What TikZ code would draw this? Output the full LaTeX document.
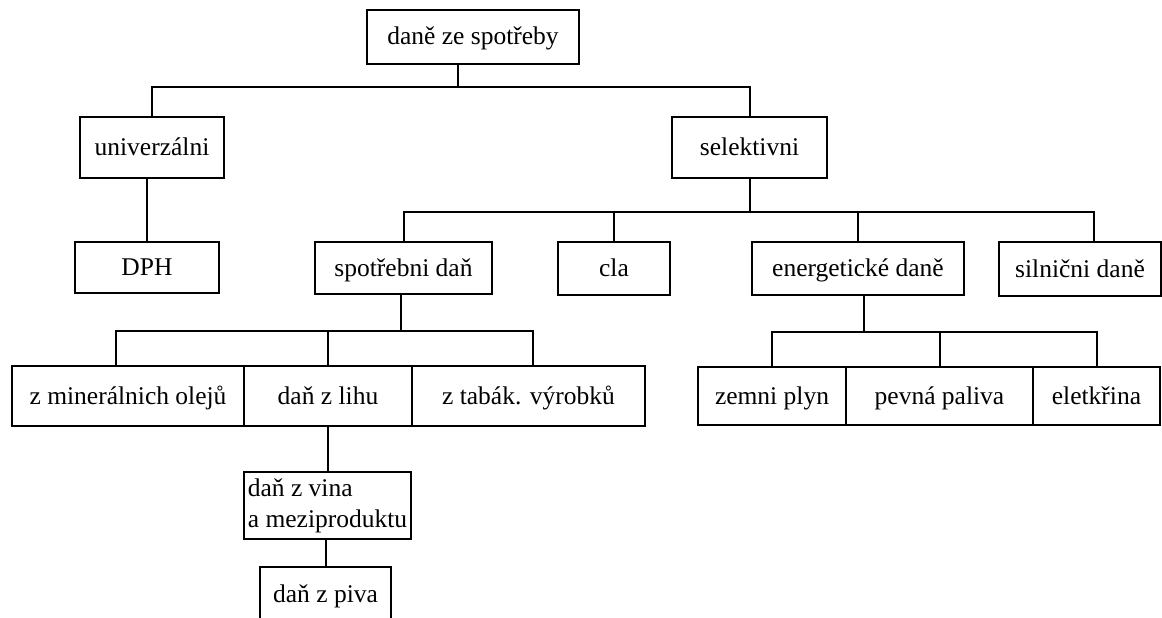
\documentclass[tikz,border=0pt]{standalone}
\usepackage{fontspec}
\setmainfont{Liberation Serif}
\tikzset{box/.style={draw, line width=2pt, inner sep=0pt, align=center, text height=20pt, text depth=4pt},
  boxtwo/.style={draw, line width=2pt, inner sep=0pt, align=left}}
\begin{document}
\begin{tikzpicture}[x=1pt, y=-1pt, line width=2pt, font=\fontsize{25.5}{31}\selectfont]
\useasboundingbox (0,0) rectangle (1162,618);
\node[box, minimum width=212pt, minimum height=54pt] (top) at (473,37){daně ze spotřeby};
\node[box, minimum width=144pt, minimum height=61pt] (univ) at (152,147.5){univerzálni};
\node[box, minimum width=155pt, minimum height=61pt] (sel) at (749.5,147.5){selektivni};
\node[box, minimum width=144pt, minimum height=51pt] (dph) at (147,267.5){DPH};
\node[box, minimum width=177pt, minimum height=52pt] (spot) at (403.5,268){spotřebni daň};
\node[box, minimum width=112pt, minimum height=53pt] (cla) at (614,268.5){cla};
\node[box, minimum width=212pt, minimum height=53pt] (energ) at (858,268.5){energetické daně};
\node[box, minimum width=162pt, minimum height=54pt] (siln) at (1080,269){silnični daně};
\node[box, minimum width=232pt, minimum height=60pt] (minr) at (128,396){z minerálnich olejů};
\node[box, minimum width=168pt, minimum height=60pt] (lihu) at (328,396){daň z lihu};
\node[box, minimum width=233pt, minimum height=60pt] (tabak) at (528.5,396){z tabák. výrobků};
\node[boxtwo, minimum width=167pt, minimum height=67pt] (vina) at (327.5,505.5){daň z vina\\a meziproduktu};
\node[box, minimum width=131pt, minimum height=54pt] (piva) at (325.5,594){daň z piva};
\node[box, minimum width=148pt, minimum height=58pt] (zemni) at (772,396){zemni plyn};
\node[box, minimum width=187pt, minimum height=58pt] (pevna) at (939.5,396){pevná paliva};
\node[box, minimum width=127pt, minimum height=58pt] (elek) at (1096.5,396){eletkřina};
% bars
\coordinate (b1) at (458,87);
\coordinate (b2) at (748,212);
\coordinate (b2e) at (1094,212);
\coordinate (b3) at (401,331);
\coordinate (b3w) at (116,331);
\coordinate (b3e) at (533,331);
\coordinate (b4) at (864,332);
\draw[](b1 |- top.south) -- (b1);
\draw[](univ.north) |- (b1) -| (sel.north);
\draw[](dph.north) -- (dph.north |- univ.south);
\draw[](sel.south) -- (sel.south |- b2);
\draw[](spot.north) |- (b2e) -- (b2e |- siln.north);
\draw[](cla.north) -- (cla.north |- b2);
\draw[](energ.north) -- (energ.north |- b2);
\draw[](b3 |- spot.south) -- (b3);
\draw[](b3w |- minr.north) -- (b3w) -- (b3e) -- (b3e |- tabak.north);
\draw[](lihu.north) -- (lihu.north |- b3);
\draw[](vina.north) -- (vina.north |- lihu.south);
\draw[](piva.north) -- (piva.north |- vina.south);
\draw[](b4 |- energ.south) -- (b4);
\draw[](zemni.north) |- (b4) -| (elek.north);
\draw[](pevna.north) -- (pevna.north |- b4);
\end{tikzpicture}
\end{document}
